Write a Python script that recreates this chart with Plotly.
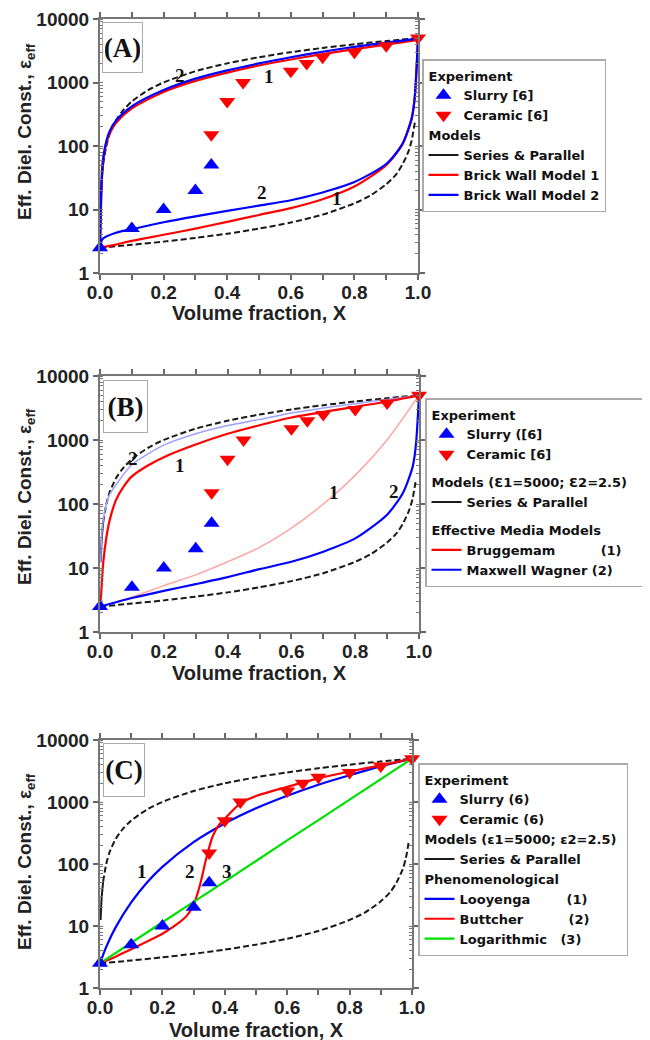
import numpy as np
import plotly.graph_objects as go

# ---------------- data ----------------
# Experimental points (same in all three panels)
X_SLURRY = [0.0, 0.1, 0.2, 0.3, 0.35]
Y_SLURRY = [2.5, 5, 10, 20, 50]
X_CERAMIC = [0.35, 0.4, 0.45, 0.6, 0.65, 0.7, 0.8, 0.9, 1.0]
Y_CERAMIC = [150, 500, 1000, 1500, 2000, 2500, 3000, 3800, 5000]

# Series (lower bound, dashed)
X_SERIES = [0.0, 0.1, 0.2, 0.3, 0.4, 0.5, 0.6, 0.7, 0.8, 0.85, 0.9, 0.93, 0.95, 0.97, 0.98, 0.99]
Y_SERIES = [2.5, 2.78, 3.12, 3.57, 4.16, 5.0, 6.24, 8.3, 12.5, 16.6, 25, 35, 50, 82, 122, 235]
# Parallel (upper bound): steep solid start, then dashed
X_PAR_START = [0.002, 0.005, 0.01]
Y_PAR_START = [12.5, 27, 52]
X_PAR = [0.01, 0.02, 0.03, 0.05, 0.07, 0.1, 0.15, 0.2, 0.3, 0.4, 0.5, 0.6, 0.7, 0.8, 0.9, 1.0]
Y_PAR = [52, 100, 152, 252, 352, 502, 752, 1002, 1502, 2002, 2501, 3001, 3501, 4000, 4500, 5000]

# Panel A: Brick wall models
X_BW_UP = [0.0, 0.002, 0.004, 0.007, 0.01, 0.02, 0.03, 0.05, 0.1, 0.2, 0.3, 0.4, 0.5, 0.6, 0.7, 0.8, 0.9, 1.0]
Y_BW2_UP = [2.9, 8, 20, 45, 65, 120, 170, 250, 420, 760, 1150, 1550, 2000, 2500, 3050, 3650, 4250, 4900]
Y_BW1_UP = [2.5, 6, 16, 38, 58, 110, 155, 230, 390, 710, 1060, 1430, 1850, 2300, 2800, 3350, 3950, 4700]
X_BW_LO = [0.0, 0.01, 0.05, 0.1, 0.2, 0.3, 0.4, 0.5, 0.6, 0.7, 0.8, 0.9, 0.95, 0.98, 0.99, 1.0]
Y_BW2_LO = [2.9, 3.5, 4.3, 4.9, 6.3, 7.8, 9.5, 11.5, 14, 18.5, 27, 52, 105, 270, 600, 5000]
Y_BW1_LO = [2.5, 2.55, 2.8, 3.2, 4.0, 5.0, 6.4, 8.2, 10.5, 14.5, 23, 50, 105, 270, 600, 5000]

# Panel B: effective media models
X_BR_UP = [0.0, 0.002, 0.005, 0.01, 0.02, 0.03, 0.05, 0.075, 0.1, 0.15, 0.2, 0.3, 0.4, 0.5, 0.6, 0.7, 0.8, 0.9, 1.0]
Y_BR_UP = [2.5, 3.2, 5, 12, 30, 55, 115, 190, 270, 400, 540, 850, 1250, 1700, 2250, 2750, 3300, 4000, 5000]
X_BR_LO = [0.0, 0.1, 0.2, 0.3, 0.4, 0.5, 0.6, 0.7, 0.8, 0.9, 1.0]
Y_BR_LO = [2.5, 3.5, 5.3, 7.8, 12.5, 21, 42, 100, 280, 1000, 5000]
X_MW_UP = [0.002, 0.005, 0.01, 0.02, 0.03, 0.05, 0.1, 0.2, 0.3, 0.4, 0.5, 0.6, 0.7, 0.8, 0.9, 1.0]
Y_MW_UP = [12, 30, 55, 100, 140, 200, 410, 830, 1250, 1680, 2100, 2650, 3150, 3700, 4300, 5000]
X_MW_LO = [0.0, 0.1, 0.2, 0.3, 0.4, 0.5, 0.6, 0.7, 0.8, 0.9, 0.95, 0.98, 0.99, 1.0]
Y_MW_LO = [2.5, 3.4, 4.4, 5.6, 7.2, 9.6, 12.5, 18, 29, 68, 150, 380, 800, 5000]

# Panel C: phenomenological models
X_LOO = [0.0, 0.02, 0.05, 0.1, 0.15, 0.2, 0.3, 0.4, 0.5, 0.6, 0.7, 0.8, 0.9, 1.0]
Y_LOO = [2.5, 4.6, 9.5, 24, 50, 90, 225, 450, 790, 1260, 1900, 2700, 3750, 5000]
X_BUT = [0.0, 0.05, 0.1, 0.15, 0.2, 0.25, 0.28, 0.3, 0.32, 0.34, 0.36, 0.38, 0.4, 0.45, 0.5, 0.6, 0.7, 0.8, 0.9, 1.0]
Y_BUT = [2.5, 3.2, 4.2, 5.6, 7.5, 11, 15, 22, 45, 120, 270, 420, 540, 950, 1250, 1750, 2400, 3100, 3900, 5000]
X_LOG = [0.0, 0.2, 0.4, 0.6, 0.8, 1.0]
Y_LOG = [2.5, 11.5, 52, 240, 1090, 5000]

# curve-number labels
LABELS_A = [("2", 0.25, 1310), ("1", 0.53, 1230), ("2", 0.51, 18.3), ("1", 0.745, 14.8)]
LABELS_B = [("2", 0.105, 510), ("1", 0.251, 400), ("1", 0.733, 150), ("2", 0.921, 158)]
LABELS_C = [("1", 0.134, 76), ("2", 0.287, 76), ("3", 0.406, 76)]

X_TITLE = "Volume fraction, X"
Y_TITLE = "Eff. Diel. Const., \u03b5<sub>eff</sub>"

# ---------------- figure ----------------
PAGE_OFF = 8                      # default page margin around the plot div
W, H = 650 - PAGE_OFF, 1040 - PAGE_OFF
BLUE, RED, GREEN, BLACK = "#0000ff", "#ff0000", "#00e000", "#1a1a1a"
LBLUE, PINK = "#9da0ff", "#ffa5a5"
SANS, SERIF = "Liberation Sans", "Liberation Serif"
LEGFONT = "DejaVu Sans"
NB = "\u00a0"

fig = go.Figure()

def line(x, y, color, xa, ya, name=None, legend=None, group=None, gtitle=None,
         show=False, width=2.2, dash=None, rank=100):
    fig.add_trace(go.Scatter(
        x=x, y=y, mode="lines", xaxis=xa, yaxis=ya,
        line=dict(color=color, width=width, dash=dash, shape="spline", smoothing=0.7),
        name=name, showlegend=show, legend=legend, legendgroup=group,
        legendgrouptitle=dict(text=gtitle) if gtitle else None,
        legendrank=rank, hoverinfo="skip"))

def markers(xa, ya, legend, gid, slurry_name, ceramic_name):
    fig.add_trace(go.Scatter(
        x=X_SLURRY, y=Y_SLURRY, mode="markers", xaxis=xa, yaxis=ya,
        marker=dict(symbol="triangle-up", size=14, color=BLUE),
        name=slurry_name, legend=legend, legendgroup="exp" + gid,
        legendgrouptitle=dict(text="Experiment"), legendrank=1, cliponaxis=False))
    fig.add_trace(go.Scatter(
        x=X_CERAMIC, y=Y_CERAMIC, mode="markers", xaxis=xa, yaxis=ya,
        marker=dict(symbol="triangle-down", size=14, color=RED),
        name=ceramic_name, legend=legend, legendgroup="exp" + gid,
        legendgrouptitle=dict(text="Experiment"), legendrank=2, cliponaxis=False))

def bounds(xa, ya, legend, gid, gtitle):
    line(X_PAR_START, Y_PAR_START, BLACK, xa, ya, name="Series & Parallel", legend=legend,
         group="mod" + gid, gtitle=gtitle, show=True, width=2, rank=3)
    line(X_PAR, Y_PAR, BLACK, xa, ya, width=2, dash="6px,3px", legend=legend)
    line(X_SERIES, Y_SERIES, BLACK, xa, ya, width=2, dash="6px,3px", legend=legend)

# ---- Panel A
bounds("x", "y", "legend", "A", "Models")
line(X_BW_UP, Y_BW1_UP, RED, "x", "y", name="Brick Wall Model 1", legend="legend",
     group="modA", gtitle="Models", show=True, rank=4)
line(X_BW_LO, Y_BW1_LO, RED, "x", "y", legend="legend")
line(X_BW_UP, Y_BW2_UP, BLUE, "x", "y", name="Brick Wall Model 2", legend="legend",
     group="modA", gtitle="Models", show=True, rank=5)
line(X_BW_LO, Y_BW2_LO, BLUE, "x", "y", legend="legend")
markers("x", "y", "legend", "A", "Slurry [6]", "Ceramic [6]")

# ---- Panel B
bounds("x2", "y2", "legend2", "B", "Models (\u01901=5000; \u01902=2.5)" + NB * 3)
line(X_MW_UP, Y_MW_UP, LBLUE, "x2", "y2", width=1.5, legend="legend2")
line(X_BR_LO, Y_BR_LO, PINK, "x2", "y2", width=1.5, legend="legend2")
line(X_BR_UP, Y_BR_UP, RED, "x2", "y2", name="Bruggemam" + NB * 10 + "(1)",
     legend="legend2", group="emB", gtitle="Effective Media Models", show=True, rank=6)
line(X_MW_LO, Y_MW_LO, BLUE, "x2", "y2", name="Maxwell Wagner (2)",
     legend="legend2", group="emB", gtitle="Effective Media Models", show=True, rank=7)
markers("x2", "y2", "legend2", "B", "Slurry ([6]", "Ceramic [6]")

# ---- Panel C
bounds("x3", "y3", "legend3", "C", "Models (\u03b51=5000; \u03b52=2.5)")
line(X_LOO, Y_LOO, BLUE, "x3", "y3", name="Looyenga" + NB * 8 + "(1)",
     legend="legend3", group="phC", gtitle="Phenomenological", show=True, rank=6)
line(X_BUT, Y_BUT, RED, "x3", "y3", name="Buttcher" + NB * 10 + "(2)",
     legend="legend3", group="phC", gtitle="Phenomenological", show=True, rank=7)
line(X_LOG, Y_LOG, GREEN, "x3", "y3", name="Logarithmic" + NB * 3 + "(3)",
     legend="legend3", group="phC", gtitle="Phenomenological", show=True, rank=8)
markers("x3", "y3", "legend3", "C", "Slurry (6)", "Ceramic (6)")

# ---------------- layout ----------------
def px_x(p):
    return (p - PAGE_OFF) / W

def px_y(p):
    return 1 - (p - PAGE_OFF) / H

tickfont = dict(family=SANS, size=19, color="#222", weight="bold")

def xaxis(x0, x1, anchor):
    return dict(domain=[px_x(x0), px_x(x1)], anchor=anchor, range=[0, 1], automargin=False,
                tick0=0, dtick=0.2, tickformat=".1f", ticks="outside", ticklen=5,
                ticklabelstandoff=-4,
                tickwidth=1.5, tickcolor="#666", showline=True, linecolor="#777",
                linewidth=2, mirror="ticks", showgrid=False, zeroline=False,
                minor=dict(dtick=0.1, ticks="outside", ticklen=5, tickwidth=1.5,
                           tickcolor="#666", showgrid=False),
                tickfont=tickfont)

def yaxis(y0, y1, anchor):
    return dict(domain=[px_y(y1), px_y(y0)], anchor=anchor, type="log", range=[0, 4],
                automargin=False, dtick=1, tickformat="d", ticks="outside", ticklen=5,
                tickwidth=1.5, tickcolor="#666", showline=True, linecolor="#777",
                linewidth=2, mirror="ticks", showgrid=False, zeroline=False,
                minor=dict(ticks="inside", ticklen=3, tickwidth=1, tickcolor="#777",
                           dtick="D1", showgrid=False),
                tickfont=tickfont)

def legend(x0, y0, gap=0):
    return dict(x=px_x(x0), y=px_y(y0), xanchor="left", yanchor="top",
                bordercolor="#aaa", borderwidth=1.5, bgcolor="white",
                font=dict(family=LEGFONT, size=13, color="#111", weight="bold"),
                grouptitlefont=dict(family=LEGFONT, size=13, color="#111", weight="bold"),
                tracegroupgap=gap, itemwidth=30, traceorder="grouped")

annotations = []
# panel letters in boxes
for lab, box in (("(A)", (102, 22, 143, 73)), ("(B)", (103, 380, 148, 433)), ("(C)", (103, 743, 145, 797))):
    x0, y0, x1, y1 = box
    annotations.append(dict(
        text="<b>%s</b>" % lab, xref="paper", yref="paper",
        x=px_x((x0 + x1) / 2), y=px_y((y0 + y1) / 2), xanchor="center", yanchor="middle",
        showarrow=False, width=x1 - x0 - 6, height=y1 - y0 - 6, borderpad=2,
        bordercolor="#aaa", borderwidth=1, bgcolor="white",
        font=dict(family=SERIF, size=27, color="#111")))

# axis titles
for cx, cy in ((259, 313), (259, 673), (256, 1030)):
    annotations.append(dict(text=X_TITLE, xref="paper", yref="paper", x=px_x(cx), y=px_y(cy),
                            xanchor="center", yanchor="middle", showarrow=False,
                            font=dict(family=SANS, size=20, color="#222", weight="bold")))
for cx, cy in ((26, 132), (26, 497), (26, 862)):
    annotations.append(dict(text=Y_TITLE, xref="paper", yref="paper", x=px_x(cx), y=px_y(cy),
                            xanchor="center", yanchor="middle", showarrow=False, textangle=-90,
                            font=dict(family=SANS, size=19, color="#222", weight="bold")))

# curve numbers
for labels, xr, yr in ((LABELS_A, "x", "y"), (LABELS_B, "x2", "y2"), (LABELS_C, "x3", "y3")):
    for t, lx, ly in labels:
        annotations.append(dict(text="<b>%s</b>" % t, xref=xr, yref=yr, x=lx, y=np.log10(ly),
                                showarrow=False, font=dict(family=SERIF, size=19, color="#111")))

fig.update_layout(
    width=W, height=H, margin=dict(l=0, r=0, t=0, b=0, autoexpand=False),
    paper_bgcolor="white", plot_bgcolor="white", showlegend=True,
    xaxis=xaxis(100, 418, "y"),
    yaxis=yaxis(19, 273, "x"),
    xaxis2=xaxis(100, 419, "y2"),
    yaxis2=yaxis(376, 632, "x2"),
    xaxis3=xaxis(100, 412, "y3"),
    yaxis3=yaxis(740, 988, "x3"),
    legend=legend(422, 59),
    legend2=legend(425, 398, gap=8),
    legend3=legend(418, 763),
    annotations=annotations,
)

fig.write_html("out.html")
